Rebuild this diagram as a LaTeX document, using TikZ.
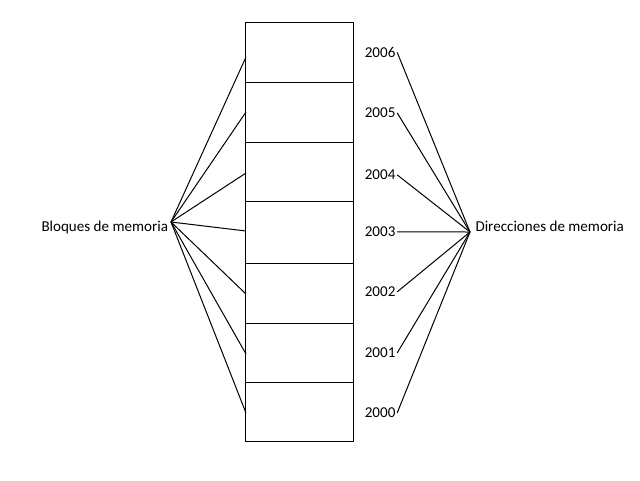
\documentclass[tikz,border=0pt]{standalone}
\usepackage{fontspec}
\setmainfont{Carlito}
\begin{document}
\begin{tikzpicture}[x=0.75pt,y=-0.75pt,line width=0.75pt,
  etiq/.style={font=\fontsize{11.3}{13}\selectfont, inner sep=0pt, anchor=base west},
  num/.style={etiq, inner xsep=1pt}]
\useasboundingbox (0,0) rectangle (640,480);

% columna de bloques
\draw (245,22) rectangle (353,441);
\foreach \y in {82,142,201,263,323,382}
  \draw (245,\y) -- (353,\y);

% etiquetas
\node[etiq] (bloq) at (41,231) {Bloques de memoria};
\node[etiq] (dir) at (475,231) {Direcciones de memoria};
\coordinate (bloqpt) at (171,222);
\coordinate (dirpt) at (470,232);

\foreach \n/\yc/\yp [count=\i] in {2006/52.7/57, 2005/113/112, 2004/175/173, 2003/232/231, 2002/292/294, 2001/353/354, 2000/413/413}
{
  \coordinate (p\i) at (246,\yp);
  \node[num] (n\i) at (363,{\yc+4.7}) {\n};
  \draw (bloqpt) -- (p\i);
  \draw (n\i.east) -- (dirpt);
}
\end{tikzpicture}
\end{document}
